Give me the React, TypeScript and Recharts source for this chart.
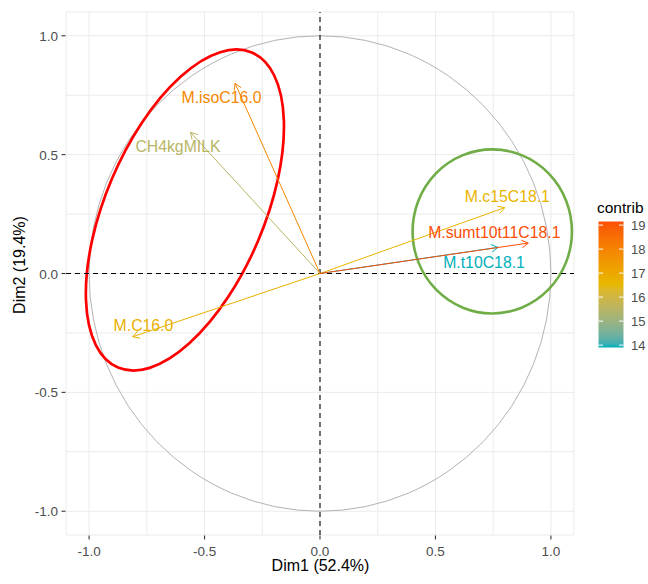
import React from 'react';
import {
  ScatterChart,
  Scatter,
  XAxis,
  YAxis,
  CartesianGrid,
  ReferenceLine,
  ReferenceArea,
} from 'recharts';

// ---------------- data ----------------
const variables = ['M.isoC16.0', 'CH4kgMILK', 'M.C16.0', 'M.c15C18.1', 'M.sumt10t11C18.1', 'M.t10C18.1'];
const dim1 = [-0.368, -0.561, -0.811, 0.8, 0.902, 0.771];
const dim2 = [0.8, 0.594, -0.266, 0.277, 0.128, 0.11];
const contrib = [17.9, 15.5, 16.8, 16.6, 19.15, 13.9];
const axisTicks = [-1, -0.75, -0.5, -0.25, 0, 0.25, 0.5, 0.75, 1];
const legendTicks = [14, 15, 16, 17, 18, 19];
const gradientColors = ['#00AFBB', '#E7B800', '#FC4E07'];
const xTitle = 'Dim1 (52.4%)';
const yTitle = 'Dim2 (19.4%)';
const legendTitle = 'contrib';

// annotation shapes (data units)
const greenCircle = { cx: 0.746, cy: 0.177, r: 0.345 };
const redEllipse = { cx: -0.585, cy: 0.267, a: 0.741, b: 0.334, angle: 67 };

// ---------------- styles ----------------
const FONT = '"Liberation Sans", Arial, Helvetica, sans-serif';
const W = 648;
const H = 584;
const PLOT_LEFT = 66;
const PLOT_BOTTOM = 535;
const labelOffsets: [number, number][] = [
  [-13.5, 14],
  [-12.5, 14.3],
  [10.7, -11],
  [2.6, -11],
  [-34, -11],
  [-14, 15.4],
];

// ---------------- colour (Lab interpolation like ggplot) ----------------
const lin = (c: number) => {
  c /= 255;
  return c <= 0.04045 ? c / 12.92 : Math.pow((c + 0.055) / 1.055, 2.4);
};
const delin = (c: number) => {
  const v = c <= 0.0031308 ? 12.92 * c : 1.055 * Math.pow(c, 1 / 2.4) - 0.055;
  return Math.round(Math.max(0, Math.min(1, v)) * 255);
};
const Xn = 0.95047, Zn = 1.08883;
const fL = (t: number) => (t > 216 / 24389 ? Math.cbrt(t) : ((24389 / 27) * t + 16) / 116);
const fLinv = (t: number) => (t * t * t > 216 / 24389 ? t * t * t : (116 * t - 16) / (24389 / 27));
function hexToLab(hex: string): [number, number, number] {
  const r = parseInt(hex.slice(1, 3), 16), g = parseInt(hex.slice(3, 5), 16), b = parseInt(hex.slice(5, 7), 16);
  const R = lin(r), G = lin(g), B = lin(b);
  const X = (0.4124564 * R + 0.3575761 * G + 0.1804375 * B) / Xn;
  const Y = 0.2126729 * R + 0.7151522 * G + 0.072175 * B;
  const Z = (0.0193339 * R + 0.119192 * G + 0.9503041 * B) / Zn;
  return [116 * fL(Y) - 16, 500 * (fL(X) - fL(Y)), 200 * (fL(Y) - fL(Z))];
}
function labToHex(L: number, a: number, b: number): string {
  const fy = (L + 16) / 116, fx = fy + a / 500, fz = fy - b / 200;
  const X = fLinv(fx) * Xn, Y = fLinv(fy), Z = fLinv(fz) * Zn;
  const R = 3.2404542 * X - 1.5371385 * Y - 0.4985314 * Z;
  const G = -0.969266 * X + 1.8760108 * Y + 0.041556 * Z;
  const B = 0.0556434 * X - 0.2040259 * Y + 1.0572252 * Z;
  const h = (n: number) => delin(n).toString(16).padStart(2, '0');
  return '#' + h(R) + h(G) + h(B);
}
const labStops = gradientColors.map(hexToLab);
const cMin = Math.min(...contrib);
const cMax = Math.max(...contrib);
function colorFor(v: number): string {
  const t = Math.max(0, Math.min(1, (v - cMin) / (cMax - cMin)));
  const seg = t * (labStops.length - 1);
  const i = Math.min(Math.floor(seg), labStops.length - 2);
  const u = seg - i;
  const A = labStops[i], B = labStops[i + 1];
  return labToHex(A[0] + (B[0] - A[0]) * u, A[1] + (B[1] - A[1]) * u, A[2] + (B[2] - A[2]) * u);
}
const colors = contrib.map(colorFor);

const points = variables.map((name, i) => ({ name, x: dim1[i], y: dim2[i], contrib: contrib[i], idx: i }));
// draw arrows from lowest to highest contribution (highest on top)
const drawOrder = variables.map((_, i) => i).sort((a, b) => contrib[a] - contrib[b]);

const isMajor = (v: number) => Math.abs(v * 2 - Math.round(v * 2)) < 1e-6;

// ---------------- components ----------------
const XTick = (props: any) => {
  const { x, payload } = props;
  const v = payload.value as number;
  if (!isMajor(v)) return <g />;
  return (
    <g>
      <line x1={x} x2={x} y1={PLOT_BOTTOM + 0.5} y2={PLOT_BOTTOM + 4.5} stroke="#333333" strokeWidth={1.07} />
      <text x={x} y={PLOT_BOTTOM + 20.5} textAnchor="middle" fill="#4D4D4D" fontSize={13.5} fontFamily={FONT}>
        {v.toFixed(1)}
      </text>
    </g>
  );
};

const YTick = (props: any) => {
  const { y, payload } = props;
  const v = payload.value as number;
  if (!isMajor(v)) return <g />;
  return (
    <g>
      <line x1={PLOT_LEFT - 4.5} x2={PLOT_LEFT - 0.5} y1={y} y2={y} stroke="#333333" strokeWidth={1.07} />
      <text x={PLOT_LEFT - 8} y={y + 5} textAnchor="end" fill="#4D4D4D" fontSize={13.5} fontFamily={FONT}>
        {v.toFixed(1)}
      </text>
    </g>
  );
};

const makeArrow = (color: string) => (p: any) => {
  const { x1, y1, x2, y2 } = p;
  const ang = Math.atan2(y2 - y1, x2 - x1);
  const L = 7.5;
  const s = Math.PI / 6;
  const ax = x2 - L * Math.cos(ang - s), ay = y2 - L * Math.sin(ang - s);
  const bx = x2 - L * Math.cos(ang + s), by = y2 - L * Math.sin(ang + s);
  return (
    <g>
      <line x1={x1} y1={y1} x2={x2} y2={y2} stroke={color} strokeWidth={1} />
      <polyline points={`${ax},${ay} ${x2},${y2} ${bx},${by}`} fill="none" stroke={color} strokeWidth={1} />
    </g>
  );
};

const LabelShape = (p: any) => {
  const { cx, cy, payload } = p;
  const i = payload.idx as number;
  const [dx, dy] = labelOffsets[i];
  return (
    <text x={cx + dx} y={cy + dy + 5.6} textAnchor="middle" fill={colors[i]} fontSize={15.8} fontFamily={FONT}>
      {payload.name}
    </text>
  );
};

const ellipseShape = (stroke: string, strokeWidth: number, angle = 0) => (p: any) => {
  const cx = p.x + p.width / 2;
  const cy = p.y + p.height / 2;
  return (
    <ellipse
      cx={cx}
      cy={cy}
      rx={Math.abs(p.width) / 2}
      ry={Math.abs(p.height) / 2}
      fill="none"
      stroke={stroke}
      strokeWidth={strokeWidth}
      transform={angle ? `rotate(${-angle} ${cx} ${cy})` : undefined}
    />
  );
};

const ColorBar = () => {
  const barX = 598.5, barTop = 221.5, barW = 25, barH = (cMax - cMin) * 24;
  const yOf = (v: number) => barTop + ((cMax - v) / (cMax - cMin)) * barH;
  const nStops = 30;
  const stops = Array.from({ length: nStops + 1 }, (_, k) => k / nStops);
  return (
    <g>
      <defs>
        <linearGradient id="contribGrad" x1="0" y1="1" x2="0" y2="0">
          {stops.map((t) => (
            <stop key={t} offset={t} stopColor={colorFor(cMin + t * (cMax - cMin))} />
          ))}
        </linearGradient>
      </defs>
      <text x={597} y={213} fill="#000" fontSize={15.5} fontFamily={FONT}>
        {legendTitle}
      </text>
      <rect x={barX} y={barTop} width={barW} height={barH} fill="url(#contribGrad)" />
      {legendTicks.map((v) => (
        <g key={v}>
          <line x1={barX} x2={barX + 4.5} y1={yOf(v)} y2={yOf(v)} stroke="#fff" strokeWidth={1} />
          <line x1={barX + barW - 4.5} x2={barX + barW} y1={yOf(v)} y2={yOf(v)} stroke="#fff" strokeWidth={1} />
          <text x={631} y={yOf(v) + 4.5} fill="#4D4D4D" fontSize={13} fontFamily={FONT}>
            {v}
          </text>
        </g>
      ))}
    </g>
  );
};

export default function App() {
  return (
    <div style={{ position: 'absolute', left: 0, top: 0, width: W, height: H, background: '#fff' }}>
      <ScatterChart width={W} height={H} margin={{ top: 12, right: 74, bottom: 0, left: 0 }}>
        <CartesianGrid stroke="#EBEBEB" strokeWidth={1} />
        <XAxis
          type="number"
          dataKey="x"
          domain={[-1.1, 1.1]}
          ticks={axisTicks}
          interval={0}
          height={49}
          axisLine={false}
          tickLine={false}
          tick={XTick}
          allowDataOverflow
        />
        <YAxis
          type="number"
          dataKey="y"
          domain={[-1.1, 1.1]}
          ticks={axisTicks}
          interval={0}
          width={66}
          axisLine={false}
          tickLine={false}
          tick={YTick}
          allowDataOverflow
        />
        <ReferenceArea x1={-1} x2={1} y1={-1} y2={1} ifOverflow="visible" shape={ellipseShape('#B3B3B3', 1)} />
        <ReferenceLine x={0} stroke="#000" strokeWidth={1.07} strokeDasharray="5 4" />
        <ReferenceLine y={0} stroke="#000" strokeWidth={1.07} strokeDasharray="5 4" />
        {drawOrder.map((i) => (
          <ReferenceLine
            key={variables[i]}
            segment={[
              { x: 0, y: 0 },
              { x: dim1[i], y: dim2[i] },
            ]}
            ifOverflow="visible"
            shape={makeArrow(colors[i])}
          />
        ))}
        <Scatter data={points} isAnimationActive={false} shape={LabelShape} />
        <ReferenceArea
          x1={greenCircle.cx - greenCircle.r}
          x2={greenCircle.cx + greenCircle.r}
          y1={greenCircle.cy - greenCircle.r}
          y2={greenCircle.cy + greenCircle.r}
          ifOverflow="visible"
          shape={ellipseShape('#70AD47', 2.6)}
        />
        <ReferenceArea
          x1={redEllipse.cx - redEllipse.a}
          x2={redEllipse.cx + redEllipse.a}
          y1={redEllipse.cy - redEllipse.b}
          y2={redEllipse.cy + redEllipse.b}
          ifOverflow="visible"
          shape={ellipseShape('#FF0000', 2.7, redEllipse.angle)}
        />
        <text x={320.5} y={571} textAnchor="middle" fill="#000" fontSize={16} fontFamily={FONT}>
          {xTitle}
        </text>
        <text x={25} y={265} textAnchor="middle" fill="#000" fontSize={16} fontFamily={FONT} transform="rotate(-90 25 265)">
          {yTitle}
        </text>
        <ColorBar />
      </ScatterChart>
    </div>
  );
}
